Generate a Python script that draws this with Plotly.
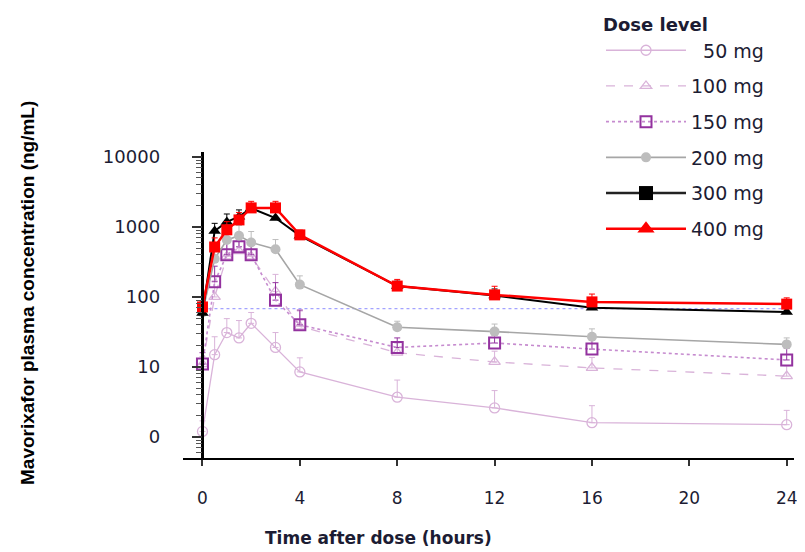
import plotly.graph_objects as go

# ---------------- data ----------------
TIME = [0, 0.5, 1, 1.5, 2, 3, 4, 8, 12, 16, 24]

DOSE_LABELS = ["\u200750 mg", "100 mg", "150 mg", "200 mg", "300 mg", "400 mg"]

C50 = [1.2, 15, 31, 26, 42, 19, 8.5, 3.7, 2.6, 1.6, 1.5]
C100 = [11, 100, 380, 450, 380, 120, 38, 16, 11.8, 9.7, 7.4]
C150 = [11, 165, 400, 520, 400, 90, 40, 19, 22, 18, 12.6]
C200 = [60, 350, 650, 750, 600, 480, 150, 37, 32, 27, 21]
C300 = [59, 875, 1180, 1400, 1850, 1340, 750, 143, 105, 70, 61]
C400 = [72, 517, 910, 1260, 1870, 1870, 770, 143, 107, 85, 79]

E50 = [0.5, 12, 18, 20, 18, 12, 5, 2.8, 2.0, 1.2, 0.9]
E100 = [3, 70, 220, 200, 180, 90, 25, 6, 5, 4, 3]
E150 = [5, 110, 230, 300, 260, 70, 25, 7, 8, 8, 6]
E200 = [15, 180, 280, 300, 260, 180, 50, 8, 9, 8, 5]
E300 = [15, 250, 350, 350, 300, 280, 130, 25, 25, 18, 12]
E400 = [15, 180, 280, 350, 450, 450, 130, 35, 35, 25, 18]

REF_LINE = 68  # horizontal dotted reference level (ng/mL)

X_TICKS = [0, 4, 8, 12, 16, 20, 24]
Y_TICKVALS = [1, 10, 100, 1000, 10000]
Y_TICKTEXT = ["0", "10", "100", "1000", "10000"]

X_TITLE = "Time after dose (hours)"
Y_TITLE = "Mavorixafor plasma concentration (ng/mL)"
LEGEND_TITLE = "Dose level"

# ---------------- styling ----------------
OFF = 8                      # page body margin of the HTML output
W, H = 805 - OFF, 552 - OFF
PL, PR, PT, PB = 183 - OFF, 794 - OFF, 152 - OFF, 458 - OFF   # plot area (px)
TXT = "#1c1c33"
FONT = "DejaVu Sans, Verdana, sans-serif"

PINK = "#d9b3d9"
PURPLE = "#93329f"
PURPLE_LINE = "#c68bcf"
GRAY = "#a6a6a6"
GRAY_M = "#bdbdbd"
RED = "#ff0000"

fig = go.Figure()


def add(y, e, name, color, lcolor, dash, symbol, size, lw, mlw, showlegend, group):
    fig.add_trace(go.Scatter(
        x=TIME, y=y, name=name, mode="lines+markers",
        line=dict(color=lcolor, width=lw, dash=dash),
        marker=dict(symbol=symbol, size=size, color=color,
                    line=dict(color=color, width=mlw)),
        error_y=dict(type="data", array=e, arrayminus=[0] * len(e),
                     symmetric=False, color=color, thickness=1, width=3),
        showlegend=showlegend, legendgroup=group,
    ))


add(C50, E50, DOSE_LABELS[0], PINK, PINK, "solid", "circle-open", 10, 1.3, 1.3, True, "g1")
add(C100, E100, DOSE_LABELS[1], PINK, PINK, "dash", "triangle-up-open", 10, 1.3, 1.3, True, "g2")
add(C150, E150, DOSE_LABELS[2], PURPLE, PURPLE_LINE, "dot", "square-open", 11, 1.6, 2, True, "g3")
add(C200, E200, DOSE_LABELS[3], GRAY_M, GRAY, "solid", "circle", 10, 1.6, 0, True, "g4")
add(C300, E300, DOSE_LABELS[4], "black", "black", "solid", "triangle-up", 11, 2, 0, False, "g5")
add(C400, E400, DOSE_LABELS[5], RED, RED, "solid", "square", 11, 2.5, 0, False, "g6")

# legend-only entries (legend symbols differ from plotted symbols)
fig.add_trace(go.Scatter(x=[None], y=[None], name=DOSE_LABELS[4], mode="lines+markers",
                         line=dict(color="#222222", width=2.5),
                         marker=dict(symbol="square", size=14, color="black"),
                         legendgroup="g5"))
fig.add_trace(go.Scatter(x=[None], y=[None], name=DOSE_LABELS[5], mode="lines+markers",
                         line=dict(color=RED, width=2.5),
                         marker=dict(symbol="triangle-up", size=15, color=RED),
                         legendgroup="g6"))

# horizontal dotted reference line
fig.add_shape(type="line", xref="x", yref="y", x0=TIME[0], x1=TIME[-1],
              y0=REF_LINE, y1=REF_LINE,
              line=dict(color="#a3a3ff", width=1.2, dash="dot"), layer="below")

minor_vals = [m * 10 ** d for d in range(-1, 4) for m in range(2, 10)]
minor_vals = [v for v in minor_vals if v >= 0.5]

X0, X1 = -0.8, 24.3
fig.update_layout(
    width=W, height=H,
    margin=dict(l=0, r=0, t=0, b=0),
    paper_bgcolor="white", plot_bgcolor="white",
    font=dict(family=FONT, color=TXT, size=16),
    showlegend=True,
    legend=dict(
        x=(601 - OFF) / W, y=1.0, xanchor="left", yanchor="top",
        bgcolor="rgba(0,0,0,0)",
        title=dict(text="<b>" + LEGEND_TITLE + "</b>", font=dict(size=18, family=FONT, color=TXT)),
        font=dict(size=19, family=FONT, color=TXT),
        itemwidth=80, tracegroupgap=8, traceorder="grouped",
    ),
    xaxis=dict(
        domain=[PL / W, PR / W], range=[X0, X1],
        tickmode="array", tickvals=X_TICKS,
        ticks="outside", ticklen=6, tickwidth=1.5, tickcolor="#333",
        showline=True, linecolor="black", linewidth=2,
        showgrid=False, zeroline=False, automargin=False,
        tickfont=dict(size=17, family=FONT, color=TXT),
        ticklabelstandoff=18,
    ),
    yaxis=dict(
        domain=[1 - PB / H, 1 - PT / H], type="log", range=[-0.3, 4.07],
        anchor="free", position=(PL + (0 - X0) * (PR - PL) / (X1 - X0)) / W,
        tickmode="array", tickvals=Y_TICKVALS, ticktext=Y_TICKTEXT,
        ticks="outside", ticklen=10, tickwidth=1.5, tickcolor="#333",
        minor=dict(tickmode="array", tickvals=minor_vals, ticks="outside",
                   ticklen=6, tickwidth=1.2, tickcolor="#555", showgrid=False),
        showline=True, linecolor="black", linewidth=2.5,
        showgrid=False, zeroline=False, automargin=False,
        tickfont=dict(size=18, family=FONT, color=TXT),
        ticklabelstandoff=28,
    ),
    annotations=[
        dict(text="<b>" + X_TITLE + "</b>", xref="paper", yref="paper",
             x=(378 - OFF) / W, y=1 - (538 - OFF) / H, xanchor="center", yanchor="middle",
             showarrow=False, font=dict(size=17, family=FONT, color=TXT)),
        dict(text="<b>" + Y_TITLE + "</b>", xref="paper", yref="paper",
             x=(27 - OFF) / W, y=1 - (293 - OFF) / H, xanchor="center", yanchor="middle",
             showarrow=False, textangle=-90,
             font=dict(size=19, family="Liberation Sans Narrow, Arial Narrow, Liberation Sans, sans-serif",
                       color="black")),
    ],
)

fig.write_html("out.html")
